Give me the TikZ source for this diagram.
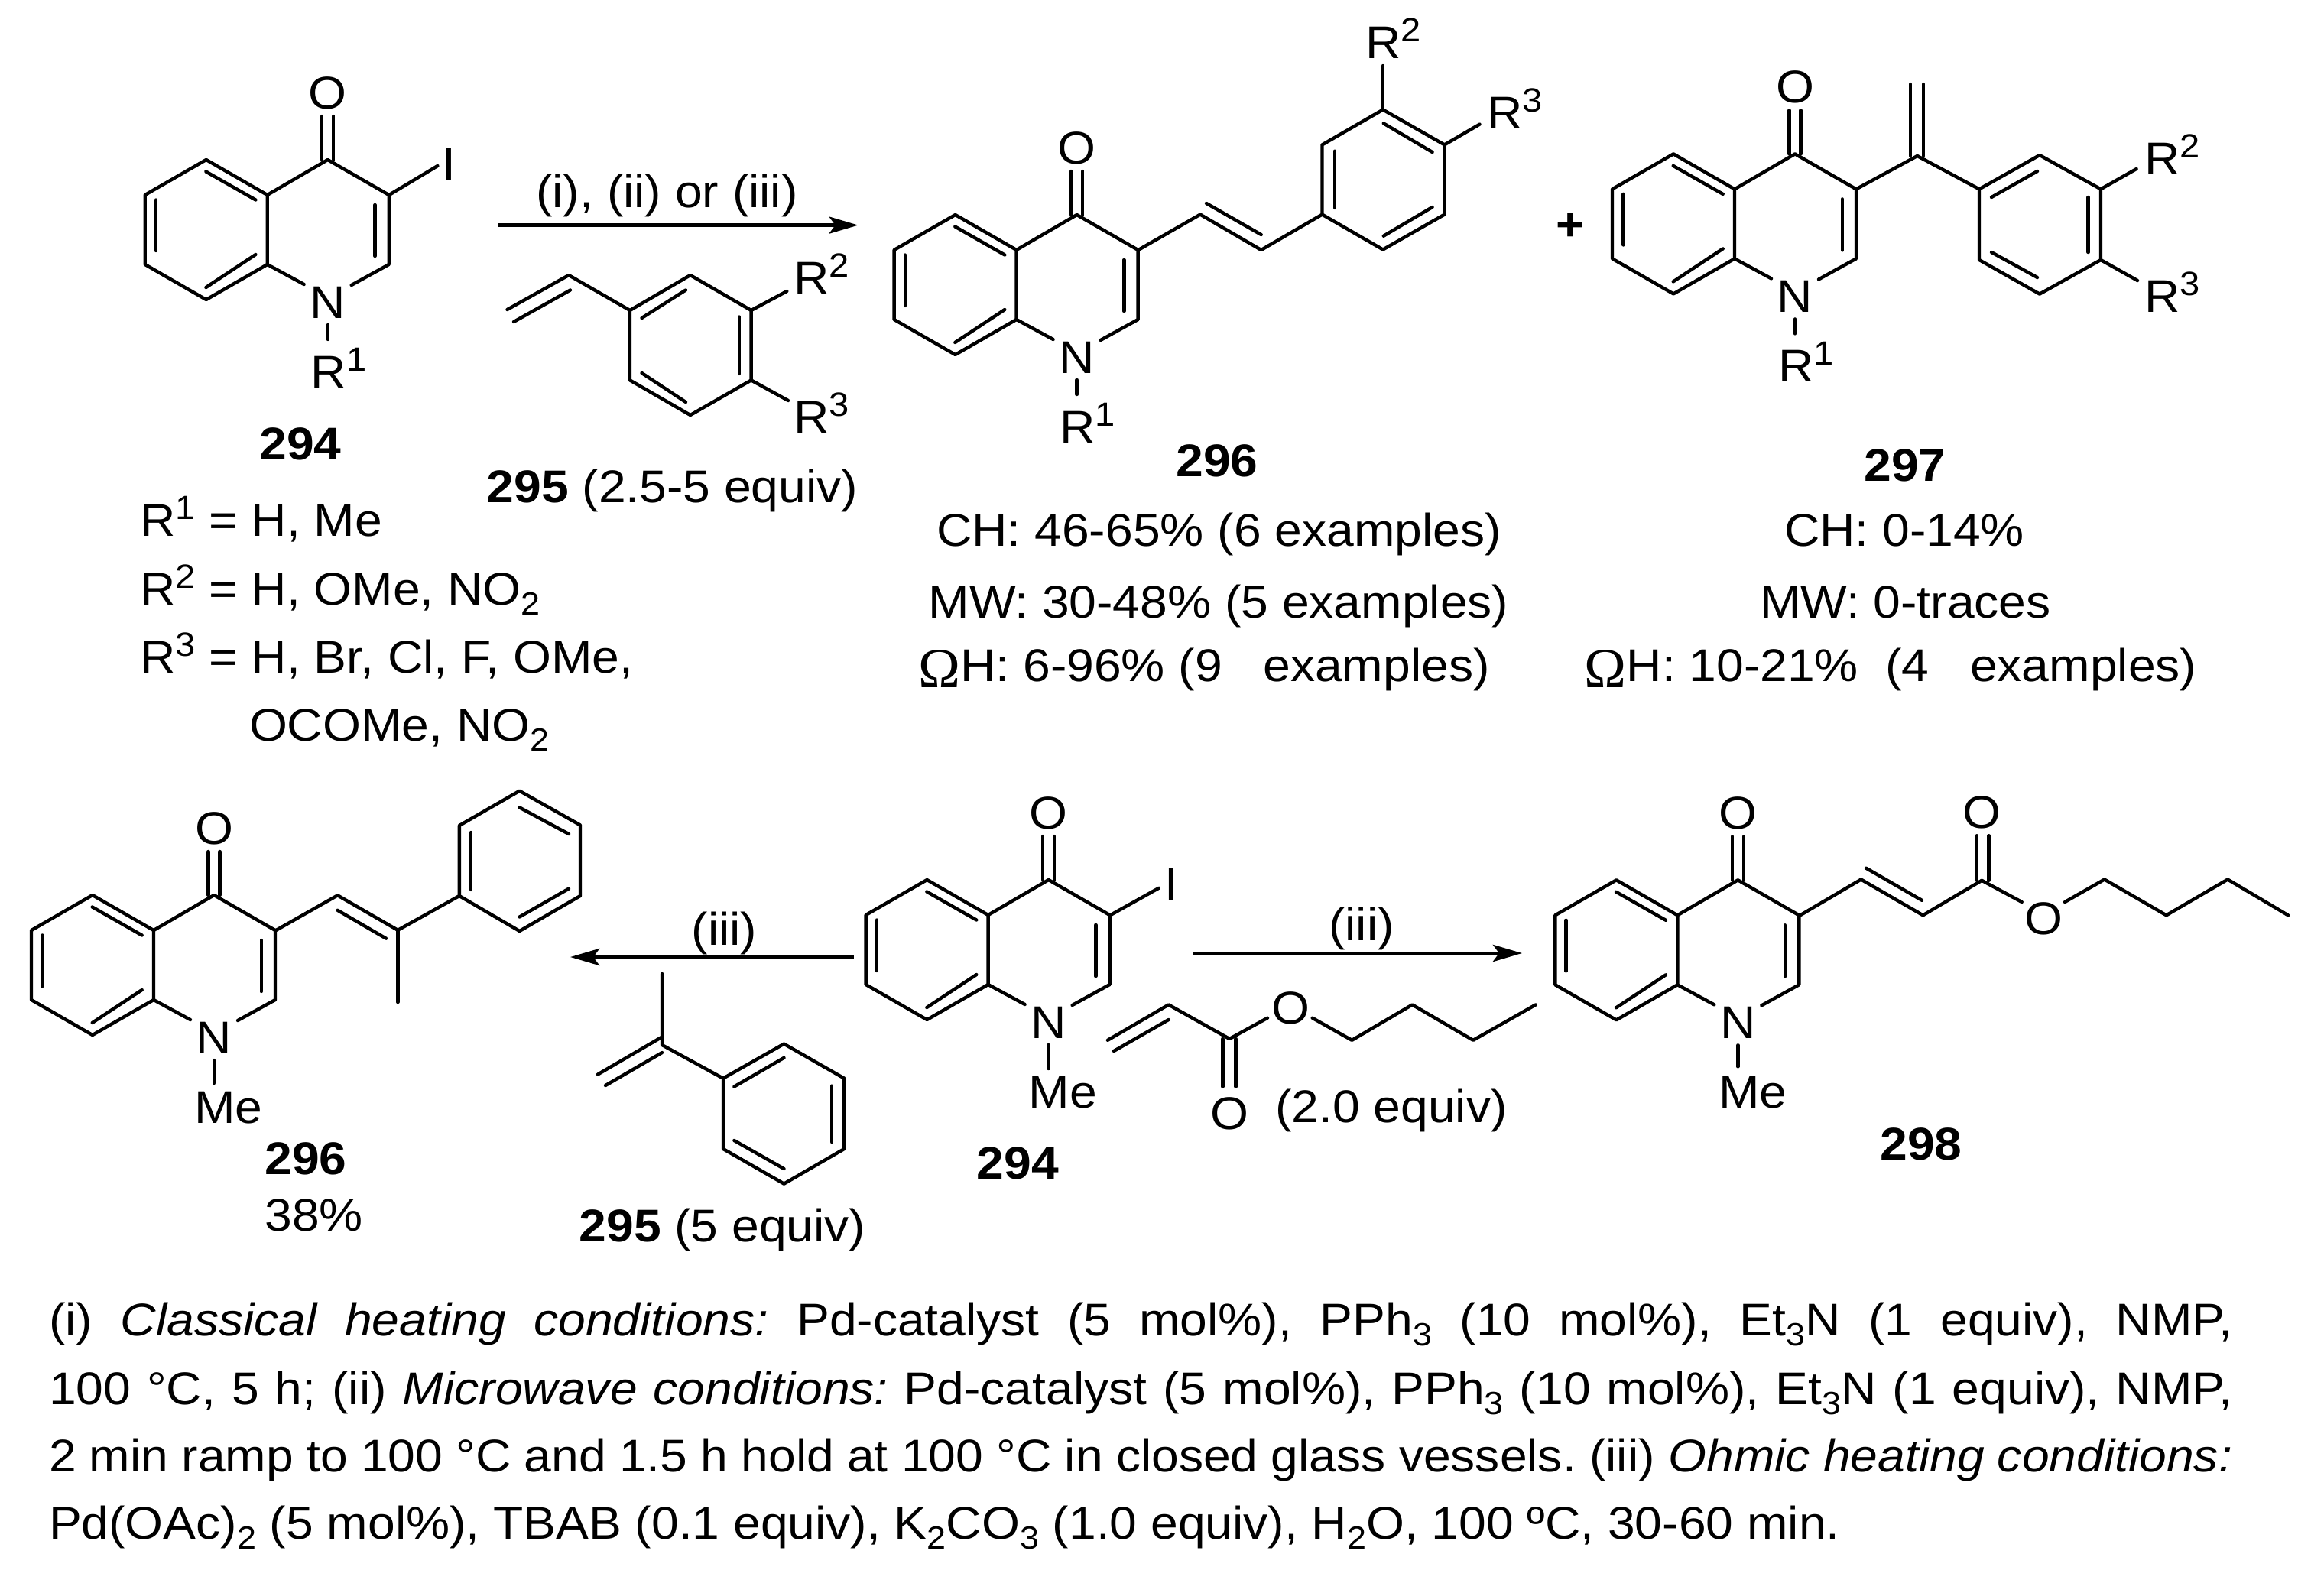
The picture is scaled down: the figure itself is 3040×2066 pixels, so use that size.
\documentclass[tikz,border=0pt]{standalone}
\usepackage{fontspec}
\setmainfont[FakeStretch=1.07]{Liberation Sans}
\newfontfamily\omfont{Liberation Serif}
\usetikzlibrary{arrows.meta}
\frenchspacing
\newcommand{\su}[1]{\raisebox{11pt}{\fontsize{22}{22}\selectfont #1}}
\newcommand{\dn}[1]{\raisebox{-6.5pt}{\fontsize{21}{21}\selectfont #1}}
\newcommand{\Om}{\raisebox{-4pt}{\fontsize{37}{37}\omfont Ω}}
\tikzset{
  bond/.style={line width=2.2pt,line cap=round,line join=round,black},
  rxnarrow/.style={line width=2.5pt,black,-{Stealth[length=19pt,width=11pt,inset=4pt]}},
  atom/.style={inner sep=0pt,outer sep=0pt,anchor=base,font=\fontsize{30}{34}\selectfont},
  atoml/.style={atom,anchor=base west},
  cmpd/.style={atom,font=\fontsize{30}{34}\selectfont\bfseries},
  plusmark/.style={inner sep=0pt,font=\fontsize{30}{34}\selectfont\bfseries}
}
% #1 id, #2 x, #3 y of C4a, #4 N-substituent, #5 bond end, #6 label x
\newcommand{\quin}[6]{%
 \begin{scope}[shift={(#2,#3)}]
  \draw[bond] (48,117) -- (0,91) -- (0,0) -- (79,-46) -- (159,0) -- (159,91) -- (110,118);
  \draw[bond] (0,0) -- (-80,-46) -- (-160,0) -- (-160,91) -- (-80,137) -- (0,91);
  \draw[bond] (-80.3,-30.5) -- (-15.3,6.5);
  \draw[bond] (-145.7,6.5) -- (-145.7,73);
  \draw[bond] (-80.3,121) -- (-15.3,78);
  \draw[bond] (140.8,13) -- (140.8,80);
  \draw[bond] (71.5,-46) -- (71.5,-103);
  \draw[bond] (86.5,-46) -- (86.5,-103);
  \draw[bond] (79,170) -- (79,#5);
  \node[atom] (#1-O) at (79,-113) {O};
  \node[atom] (#1-N) at (79,161) {N};
  \node[atoml] (#1-R) at (#6,252) {#4};
 \end{scope}}
\begin{document}
\begin{tikzpicture}[x=0.5pt,y=-0.5pt]
\useasboundingbox (0,0) rectangle (3040,2066);
\fill[white] (0,0) rectangle (3040,2066);

% ---------- 294 (top)
\quin{a}{349.7}{255}{R\su{1}}{189}{57}
\draw[bond] (509,255) -- (572.4,217);
\node[atom] (a-I) at (587.7,235) {I};
\node[cmpd] (a-lab) at (393,601) {294};
\node[atoml] (r1) at (183,701.5) {R\su{1} = H, Me};
\node[atoml] (r2) at (183,791) {R\su{2} = H, OMe, NO\dn{2}};
\node[atoml] (r3) at (183,880) {R\su{3} = H, Br, Cl, F, OMe,};
\node[atoml] (r4) at (326,969.4) {OCOMe, NO\dn{2}};

% ---------- top arrow
\coordinate (arrA) at (652,294.6);
\coordinate (arrB) at (1122.7,294.6);
\draw[rxnarrow] (arrA) -- (arrB);
\node[atom] (arrlab) at (872.5,271) {(i), (ii) or (iii)};

% ---------- 295 (top)
\draw[bond] (663.5,405) -- (744,360) -- (824,406) -- (903,360) -- (982.6,406) -- (982.6,497.4) -- (903,543) -- (824,497.4) -- (824,406);
\draw[bond] (672,421) -- (746,379.5);
\draw[bond] (839.5,416) -- (897,379.5);
\draw[bond] (967,414.5) -- (967,489);
\draw[bond] (839.5,488) -- (897,526);
\draw[bond] (982.6,406) -- (1029.3,381);
\draw[bond] (982.6,497.4) -- (1031,524);
\node[atoml] (b-R2) at (1038,384.6) {R\su{2}};
\node[atoml] (b-R3) at (1038,566) {R\su{3}};
\node[atoml] (b-lab) at (636.7,657) {\textbf{295} (2.5-5 equiv)};

% ---------- 296 (top)
\quin{c}{1329.6}{327}{R\su{1}}{189}{57}
\draw[bond] (1489,327) -- (1570,280.6) -- (1649.7,327) -- (1729.5,280.6) -- (1729.5,189.4) -- (1809,143.5) -- (1889.5,189.4) -- (1889.5,280.6) -- (1809,326.5) -- (1729.5,280.6);
\draw[bond] (1578,266) -- (1649.7,307);
\draw[bond] (1746,197.7) -- (1746,272);
\draw[bond] (1809.8,161.4) -- (1873.6,199);
\draw[bond] (1809.8,308.7) -- (1873.6,271);
\draw[bond] (1809,143.5) -- (1809,86);
\draw[bond] (1889.5,189.4) -- (1935.5,162.6);
\node[atoml] (c-R2) at (1786,76.5) {R\su{2}};
\node[atoml] (c-R3) at (1945.5,169) {R\su{3}};
\node[cmpd] (c-lab) at (1592,623) {296};
\node[atom] (c-t1) at (1594.5,714) {CH: 46-65\% (6 examples)};
\node[atom] (c-t2) at (1594,808) {MW: 30-48\% (5 examples)};
\node[atom] (c-t3) at (1575,891.6) {\Om H: 6-96\% (9~~~examples)};

% ---------- plus
\node[plusmark] (plus) at (2054.4,296.6) {+};

% ---------- 297
\quin{d}{2269}{247.4}{R\su{1}}{189}{57}
\draw[bond] (2428,247.4) -- (2508,204) -- (2589,247.4) -- (2668,203) -- (2748,247.4) -- (2748,340) -- (2668,384.6) -- (2589,340) -- (2589,247.4);
\draw[bond] (2499,204) -- (2499,110);
\draw[bond] (2516,204) -- (2516,110);
\draw[bond] (2605,258) -- (2665,224);
\draw[bond] (2731.6,258) -- (2731.6,330);
\draw[bond] (2605,330) -- (2665,363);
\draw[bond] (2748,247.4) -- (2794.6,221);
\draw[bond] (2748,340) -- (2796,367);
\node[atoml] (d-R2) at (2805,228) {R\su{2}};
\node[atoml] (d-R3) at (2805,408) {R\su{3}};
\node[cmpd] (d-lab) at (2492,629.5) {297};
\node[atom] (d-t1) at (2491,714) {CH: 0-14\%};
\node[atom] (d-t2) at (2492.5,808) {MW: 0-traces};
\node[atom] (d-t3) at (2473,891.6) {\Om H: 10-21\%~~(4~~~examples)};

% ---------- 296 (bottom)
\quin{e}{201}{1217}{Me}{200}{53}
\draw[bond] (361,1217) -- (441.6,1171.3) -- (520.4,1216.8) -- (600.8,1172) -- (600.8,1080) -- (679.6,1034.7) -- (759,1079.4) -- (759,1172) -- (679.6,1218) -- (600.8,1172);
\draw[bond] (520.4,1216.8) -- (520.4,1311);
\draw[bond] (441.6,1190.8) -- (505,1227.7);
\draw[bond] (616,1089) -- (616,1164);
\draw[bond] (679.6,1056.4) -- (744,1091);
\draw[bond] (679.6,1199.5) -- (744,1162.6);
\node[cmpd] (e-lab) at (400,1536.9) {296};
\node[atom] (e-yield) at (410.6,1610.6) {38\%};

% ---------- left arrow
\coordinate (arrC) at (1117,1252);
\coordinate (arrD) at (746,1252);
\draw[rxnarrow] (arrC) -- (arrD);
\node[atom] (arrlabL) at (947.4,1236) {(iii)};

% ---------- 295 (bottom)
\draw[bond] (866,1274) -- (866,1367) -- (946,1410.7) -- (1025.5,1365.6) -- (1104.3,1410.7) -- (1104.3,1503) -- (1025.5,1548.6) -- (946,1503) -- (946,1410.7);
\draw[bond] (782,1405.5) -- (866,1356.5);
\draw[bond] (792,1420) -- (866,1377);
\draw[bond] (960.4,1421.5) -- (1025.5,1383.8);
\draw[bond] (1088,1420.6) -- (1088,1494);
\draw[bond] (960.4,1492) -- (1025.5,1529);
\node[atoml] (f-lab) at (757.6,1624.5) {\textbf{295} (5 equiv)};

% ---------- 294 (bottom)
\quin{g}{1292.6}{1197}{Me}{201}{53}
\draw[bond] (1452.7,1197) -- (1515.8,1161.8);
\node[atom] (g-I) at (1532.4,1177) {I};
\node[cmpd] (g-lab) at (1331.5,1542) {294};

% ---------- right arrow
\coordinate (arrE) at (1561,1247);
\coordinate (arrF) at (1991,1247);
\draw[rxnarrow] (arrE) -- (arrF);
\node[atom] (arrlabR) at (1781,1230) {(iii)};

% ---------- butyl acrylate
\draw[bond] (1448.9,1360.8) -- (1528.6,1314.4) -- (1608.3,1359) -- (1658,1331.7);
\draw[bond] (1457,1375) -- (1528.6,1334);
\draw[bond] (1599.4,1359) -- (1599.4,1421.5);
\draw[bond] (1616.6,1359) -- (1616.6,1421.5);
\draw[bond] (1716.7,1331.7) -- (1768.4,1360.8) -- (1847.4,1314.4) -- (1927,1360.8) -- (2008.8,1314.4);
\node[atom] (h-O1) at (1608.3,1477) {O};
\node[atom] (h-O2) at (1688,1339) {O};
\node[atom] (h-lab) at (1820,1468) {(2.0 equiv)};

% ---------- 298
\quin{k}{2194.3}{1197.3}{Me}{198}{54}
\draw[bond] (2354.8,1197.3) -- (2434.4,1150.5) -- (2515.4,1197.3) -- (2592.3,1151.8) -- (2644.7,1180);
\draw[bond] (2441,1135.7) -- (2514,1177.8);
\draw[bond] (2585.7,1151.8) -- (2585.7,1093.2);
\draw[bond] (2601.6,1151.8) -- (2601.6,1093.2);
\draw[bond] (2701,1180) -- (2752.8,1150.5) -- (2833.7,1197.3) -- (2914,1150.5) -- (2993,1197.3);
\node[atom] (k-O1) at (2592.3,1083.7) {O};
\node[atom] (k-O2) at (2673,1222) {O};
\node[cmpd] (k-lab) at (2513,1517) {298};

% ---------- conditions
\node[atoml] (l1) at (64,1747) {\hbox to 1428pt{(i) \textit{Classical heating conditions:} Pd-catalyst (5 mol\%), PPh\dn{3} (10 mol\%), Et\dn{3}N (1 equiv), NMP,}};
\node[atoml] (l2) at (64,1837) {\hbox to 1428pt{100 °C, 5 h; (ii) \textit{Microwave conditions:} Pd-catalyst (5 mol\%), PPh\dn{3} (10 mol\%), Et\dn{3}N (1 equiv), NMP,}};
\node[atoml] (l3) at (64,1925) {\hbox to 1428pt{2 min ramp to 100 °C and 1.5 h hold at 100 °C in closed glass vessels. (iii) \textit{Ohmic heating conditions:}}};
\node[atoml] (l4) at (64,2013) {Pd(OAc)\dn{2} (5 mol\%), TBAB (0.1 equiv), K\dn{2}CO\dn{3} (1.0 equiv), H\dn{2}O, 100 ºC, 30-60 min.};
\end{tikzpicture}
\end{document}
